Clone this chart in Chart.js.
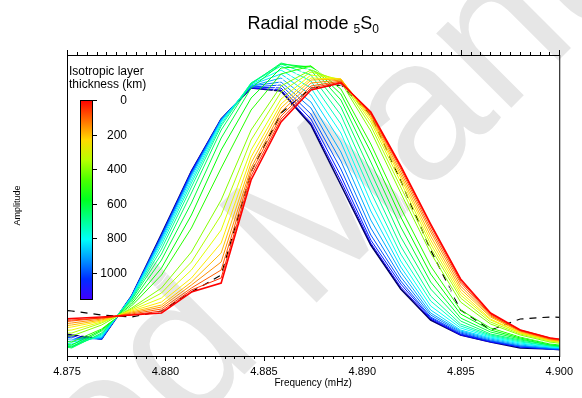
<!DOCTYPE html>
<html>
<head>
<meta charset="utf-8">
<script src="https://cdn.jsdelivr.net/npm/chart.js@4.4.1/dist/chart.umd.min.js"></script>
<style>
  html, body { margin: 0; padding: 0; background: #fff; }
</style>
</head>
<body>
<canvas id="chart" width="582" height="398"></canvas>
<script>
// frequency samples (mHz) shared by all spectra
const freqs = [4.87372, 4.87524, 4.87676, 4.87828, 4.87980, 4.88132, 4.88283, 4.88435, 4.88587, 4.88739,
               4.88891, 4.89043, 4.89195, 4.89347, 4.89499, 4.89651, 4.89802, 4.89954, 4.90106];

// isotropic layer thickness (km) of each synthetic spectrum
const thicknesses = [0, 50, 100, 150, 200, 250, 300, 350, 400, 450, 500, 550,
                     600, 650, 700, 750, 800, 850, 900, 950, 1000, 1050, 1100, 1150];

// amplitudes (arbitrary units), one array per thickness
const amp0    = [35, 37.5, 39, 41, 43, 64, 73, 176, 234, 266, 273, 244, 190, 132, 77, 43, 26, 18, 14];
const amp50   = [34, 36, 38, 41, 45, 66, 78, 180, 237, 268, 274, 243, 189, 130, 75, 42, 26, 18, 14];
const amp100  = [32, 35, 38, 42, 47, 68, 86, 184, 240, 270, 275, 242, 187, 127, 73, 41, 25, 17, 13];
const amp150  = [30, 33, 37, 43, 49, 71, 94, 188, 244, 273, 276, 241, 184, 124, 70, 40, 25, 17, 13];
const amp200  = [28, 31, 36, 44, 51, 74, 103, 193, 248, 276, 277, 239, 181, 120, 67, 39, 24, 16, 12];
const amp250  = [26, 29, 35, 45, 54, 78, 113, 199, 252, 278, 277, 237, 178, 116, 64, 37, 23, 16, 12];
const amp300  = [24, 26, 34, 46, 58, 86, 126, 206, 257, 281, 277, 234, 174, 112, 61, 36, 23, 15, 11];
const amp350  = [22, 23, 33, 47, 63, 94, 141, 216, 264, 284, 276, 230, 169, 108, 58, 34, 22, 15, 11];
const amp400  = [20, 20, 31, 48, 68, 104, 156, 226, 270, 286, 274, 225, 163, 103, 54, 32, 21, 14, 10];
const amp450  = [18, 17, 29, 49, 74, 116, 171, 236, 276, 288, 271, 219, 156, 97, 50, 30, 20, 13, 10];
const amp500  = [16, 14, 27, 50, 81, 128, 188, 246, 282, 290, 267, 212, 148, 90, 46, 28, 19, 13, 9];
const amp550  = [14, 11, 26, 52, 88, 141, 206, 258, 288, 290, 262, 204, 139, 82, 42, 26, 18, 12, 9];
const amp600  = [13, 9, 25, 54, 96, 153, 218, 268, 292, 289, 256, 194, 129, 74, 38, 24, 17, 11, 8];
const amp650  = [13, 8, 23, 56, 102, 163, 226, 272, 293, 286, 249, 184, 119, 67, 35, 22, 16, 11, 8];
const amp700  = [14, 9, 22, 57, 107, 169, 230, 273, 292, 281, 241, 174, 110, 60, 32, 21, 15, 10, 8];
const amp750  = [15, 10, 21, 58, 111, 173, 232, 273, 290, 275, 232, 164, 102, 55, 30, 20, 14, 10, 7];
const amp800  = [17, 12, 20, 59, 114, 176, 234, 272, 286, 268, 223, 154, 95, 50, 28, 19, 13, 9, 7];
const amp850  = [19, 14, 19, 59, 116, 179, 235, 271, 282, 261, 214, 145, 89, 46, 26, 18, 12, 9, 7];
const amp900  = [20, 16, 18, 59, 118, 181, 236, 270, 278, 254, 204, 136, 84, 43, 25, 17, 11, 8, 6];
const amp950  = [22, 17, 18, 60, 119, 182, 236, 270, 274, 248, 195, 128, 79, 41, 24, 16, 10, 8, 6];
const amp1000 = [23, 18, 17, 60, 120, 183, 237, 269, 271, 242, 187, 121, 75, 39, 23, 15, 10, 7, 6];
const amp1050 = [24, 19, 17, 60, 121, 184, 237, 269, 268, 237, 180, 116, 72, 38, 22, 15, 9, 7, 5];
const amp1100 = [25, 20, 17, 60, 121, 185, 237, 268, 266, 233, 175, 113, 69, 37, 21, 14, 9, 7, 5];
const amp1150 = [26, 21, 17, 60, 122, 185, 237, 268, 265, 231, 171, 111, 67, 36, 21, 14, 8, 7, 5];
const spectra = [amp0, amp50, amp100, amp150, amp200, amp250, amp300, amp350, amp400, amp450, amp500, amp550,
                 amp600, amp650, amp700, amp750, amp800, amp850, amp900, amp950, amp1000, amp1050, amp1100, amp1150];

// observed spectrum (dashed)
const observed = [48, 45, 41, 39, 45, 64, 81, 184, 243, 268, 271, 241, 175, 106, 46, 26, 37, 39, 38];

const colorbarTicks = [0, 200, 400, 600, 800, 1000];
const colorbarMax = 1150;

function thicknessColor(t) {
    return 'hsl(' + (t / colorbarMax * 255).toFixed(1) + ', 100%, 50%)';
}

const last = spectra.length - 1;
const datasets = spectra.map((amps, i) => ({
    label: thicknesses[i] + ' km',
    data: freqs.map((f, j) => ({ x: f, y: amps[j] })),
    borderColor: i === last ? '#000066' : (thicknesses[i] === 450 ? '#ffffff' : thicknessColor(thicknesses[i])),
    borderWidth: i === 0 || i === last ? 1.6 : 1,
}));
datasets.push({
    label: 'observed',
    data: freqs.map((f, j) => ({ x: f, y: observed[j] })),
    borderColor: '#000',
    borderWidth: 1.2,
    borderDash: [7, 6],
});

// light watermark under everything
const watermark = {
    id: 'watermark',
    beforeDraw(chart) {
        const ctx = chart.ctx;
        ctx.save();
        ctx.font = '200px "Liberation Sans", Arial, sans-serif';
        ctx.fillStyle = '#e6e6e6';
        ctx.translate(305, 314);
        ctx.rotate(-Math.PI / 4);
        const pre = ctx.measureText('Accepted ').width;
        ctx.fillText('Accepted Manuscript', -pre, 0);
        ctx.restore();
    }
};

// frame, ticks on top and bottom, title, colour bar
const decorations = {
    id: 'decorations',
    afterDraw(chart) {
        const ctx = chart.ctx;
        const area = chart.chartArea;
        const xs = chart.scales.x;
        ctx.save();
        ctx.strokeStyle = '#000';
        ctx.lineWidth = 1;
        ctx.strokeRect(area.left + 0.5, area.top + 0.5, area.right - area.left, area.bottom - area.top);
        ctx.beginPath();
        for (let k = 0; k <= 50; k++) {
            const x = Math.round(xs.getPixelForValue(4.875 + k * 0.0005)) + 0.5;
            const len = k % 10 === 0 ? 5 : 3;
            ctx.moveTo(x, area.bottom);
            ctx.lineTo(x, area.bottom + len);
            ctx.moveTo(x, area.top);
            ctx.lineTo(x, area.top - len);
        }
        ctx.stroke();

        // title with subscripts
        ctx.fillStyle = '#000';
        ctx.textBaseline = 'alphabetic';
        const big = '18px "Liberation Sans", Arial, sans-serif';
        const small = '12px "Liberation Sans", Arial, sans-serif';
        const parts = [['Radial mode ', big, 0], ['5', small, 4], ['S', big, 0], ['0', small, 4]];
        let total = 0;
        parts.forEach(p => { ctx.font = p[1]; total += ctx.measureText(p[0]).width; });
        let x = (area.left + area.right) / 2 - total / 2;
        parts.forEach(p => {
            ctx.font = p[1];
            ctx.fillText(p[0], x, 29 + p[2]);
            x += ctx.measureText(p[0]).width;
        });

        // colour bar
        const barL = 80, barR = 92, barT = 100, barB = 299;
        const grad = ctx.createLinearGradient(0, barT, 0, barB);
        for (let s = 0; s <= 10; s++) grad.addColorStop(s / 10, thicknessColor(s / 10 * colorbarMax));
        ctx.fillStyle = grad;
        ctx.fillRect(barL, barT, barR - barL, barB - barT);
        ctx.strokeRect(barL + 0.5, barT + 0.5, barR - barL, barB - barT);
        ctx.fillStyle = '#000';
        ctx.font = '12px "Liberation Sans", Arial, sans-serif';
        ctx.textAlign = 'left';
        ctx.fillText('Isotropic layer', 69, 75);
        ctx.fillText('thickness (km)', 69, 88);
        ctx.textAlign = 'right';
        ctx.textBaseline = 'middle';
        ctx.beginPath();
        colorbarTicks.forEach(t => {
            const y = Math.round(barT + (barB - barT) * t / colorbarMax) + 0.5;
            ctx.moveTo(barR, y);
            ctx.lineTo(barR + 5, y);
            ctx.fillText(String(t), 127, y);
        });
        ctx.stroke();
        ctx.restore();
    }
};

new Chart(document.getElementById('chart'), {
    type: 'line',
    data: { datasets },
    options: {
        responsive: false,
        animation: false,
        layout: { padding: { top: 55, right: 17, left: 0, bottom: 0 } },
        elements: { point: { radius: 0 }, line: { tension: 0 } },
        plugins: { legend: { display: false }, tooltip: { enabled: false } },
        scales: {
            x: {
                type: 'linear',
                min: 4.875,
                max: 4.900,
                afterFit: (s) => { s.height = 42; },
                grid: { display: false, drawTicks: false },
                border: { display: false },
                ticks: {
                    stepSize: 0.005,
                    padding: 9,
                    color: '#000',
                    font: { family: '"Liberation Sans", Arial, sans-serif', size: 11 },
                    callback: (v) => v.toFixed(3),
                },
                title: {
                    display: true,
                    text: 'Frequency (mHz)',
                    color: '#000',
                    font: { family: '"Liberation Sans", Arial, sans-serif', size: 10 },
                    padding: { top: 0, bottom: 9 },
                },
            },
            y: {
                min: 0,
                max: 301,
                afterFit: (s) => { s.width = 67; },
                grid: { display: false, drawTicks: false },
                border: { display: false },
                ticks: { display: false },
                title: {
                    display: true,
                    text: 'Amplitude',
                    color: '#000',
                    font: { family: '"Liberation Sans", Arial, sans-serif', size: 9 },
                    padding: { top: 12, bottom: 0 },
                },
            },
        },
    },
    plugins: [watermark, decorations],
});
</script>
</body>
</html>
